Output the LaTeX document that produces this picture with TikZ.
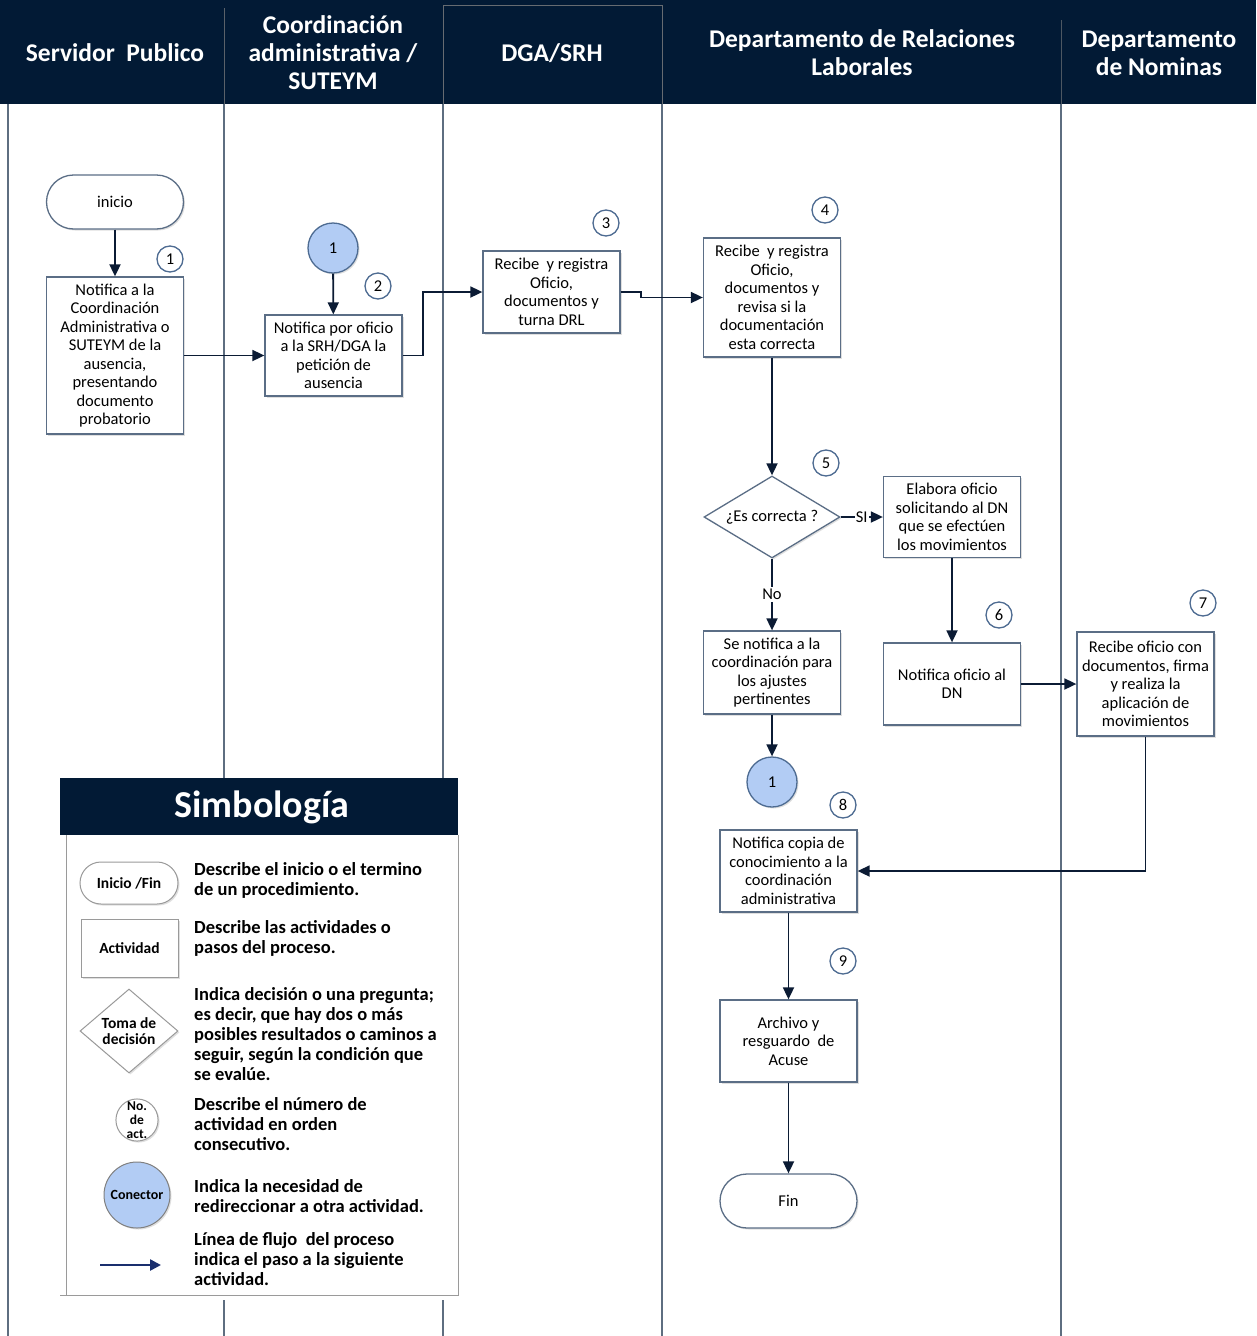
\documentclass[tikz,border=0pt]{standalone}
\usepackage{fontspec}
\setmainfont{Carlito}
\usetikzlibrary{shapes.geometric,arrows.meta,shadows}
\definecolor{navy}{HTML}{021A35}
\definecolor{lanec}{HTML}{5E6E80}
\definecolor{boxc}{HTML}{5B6E86}
\definecolor{numc}{HTML}{4D6B91}
\definecolor{conf}{HTML}{B2CCF4}
\definecolor{arrc}{HTML}{0B1B34}
\definecolor{legc}{HTML}{9A9A9A}
\definecolor{legarr}{HTML}{1A2F6E}
\begin{document}
\begin{tikzpicture}[x=1pt,y=-1pt,
  every node/.style={font=\fontsize{16.5}{18.5}\selectfont, align=center, inner sep=0pt, text=black},
  shad/.style={drop shadow={opacity=0.25,shadow xshift=1.5pt,shadow yshift=-1.5pt}},
  act/.style={draw=boxc, line width=1.3pt, fill=white, shad},
  term/.style={act, rounded corners=27pt, minimum height=54pt, minimum width=137pt},
  numb/.style={circle, draw=numc, line width=1.3pt, fill=white, minimum size=26pt},
  conn/.style={circle, draw=numc, line width=1.3pt, fill=conf, minimum size=50pt, shad},
  dec/.style={diamond, aspect=1.66, draw=boxc, line width=1.3pt, fill=white, minimum width=136pt, minimum height=82pt, shad},
  flow/.style={draw=arrc, line width=1.8pt, -{Triangle[length=12pt,width=11pt]}},
  lane/.style={draw=lanec, line width=1.5pt},
  hdr/.style={text=white, font=\bfseries\fontsize{25.5}{28}\selectfont},
  lgs/.style={draw=legc, line width=1pt, fill=white, shad, font=\bfseries\fontsize{15.5}{16}\selectfont},
  lgt/.style={anchor=west, align=left, font=\bfseries\fontsize{18.5}{20}\selectfont}
]
\useasboundingbox (0,0) rectangle (1256,1336);
\fill[white] (0,0) rectangle (1256,1336);
% header
\fill[navy] (0,0) rectangle (1256,104);
\draw[draw=gray!70!navy, line width=1pt] (224,8) -- (224,104);
\draw[draw=gray!80!navy, line width=1pt] (443,104) -- (443,5) -- (662,5) -- (662,104);
\draw[draw=gray!60!navy, line width=1pt] (1061,20) -- (1061,104);
\node[hdr] (h1) at (115,53) {Servidor\ \ Publico};
\node[hdr] (h2) at (333,53) {Coordinación\\administrativa /\\SUTEYM};
\node[hdr] (h3) at (552,53) {DGA/SRH};
\node[hdr] (h4) at (862,53) {Departamento de Relaciones\\Laborales};
\node[hdr] (h5) at (1159,53) {Departamento\\de Nominas};
% lanes
\foreach \xx in {8,224,443,662,1061} \draw[lane] (\xx,104) -- (\xx,1336);

% flow nodes
\node[term] (ini) at (115,202) {inicio};
\node[act, minimum width=137pt, minimum height=157pt] (a1) at (115,355.5) {Notifica a la\\Coordinación\\Administrativa o\\SUTEYM de la\\ausencia,\\presentando\\documento\\probatorio};
\node[conn] (c1) at (333,248) {1};
\node[act, minimum width=137pt, minimum height=81pt] (a2) at (333.5,355.5) {Notifica por oficio\\a la SRH/DGA la\\petición de\\ausencia};
\node[act, minimum width=137pt, minimum height=82pt] (a3) at (551.5,292) {Recibe\ \ y registra\\Oficio,\\documentos y\\turna DRL};
\node[act, minimum width=137pt, minimum height=119pt] (a4) at (772,297.5) {Recibe\ \ y registra\\Oficio,\\documentos y\\revisa si la\\documentación\\esta correcta};
\node[dec] (d5) at (772,517) {¿Es correcta ?};
\node[act, minimum width=137pt, minimum height=81pt] (el) at (952,517) {Elabora oficio\\solicitando al DN\\que se efectúen\\los movimientos};
\node[act, minimum width=137pt, minimum height=83pt] (no) at (772,672.5) {Se notifica a la\\coordinación para\\los ajustes\\pertinentes};
\node[conn] (c2) at (772,782) {1};
\node[act, minimum width=137pt, minimum height=82pt] (a6) at (952,684) {Notifica oficio al\\DN};
\node[act, minimum width=137pt, minimum height=104pt] (a7) at (1145.5,684) {Recibe oficio con\\documentos, firma\\y realiza la\\aplicación de\\movimientos};
\node[act, minimum width=137pt, minimum height=82pt] (a8) at (788.5,871) {Notifica copia de\\conocimiento a la\\coordinación\\administrativa};
\node[act, minimum width=137pt, minimum height=82pt] (a9) at (788.5,1041) {Archivo y\\resguardo\ \ de\\Acuse};
\node[term] (fin) at (788.5,1201) {Fin};

% step numbers
\node[numb] (n1) at (170,259) {1};
\node[numb] (n2) at (378,286) {2};
\node[numb] (n3) at (606,223) {3};
\node[numb] (n4) at (825,210) {4};
\node[numb] (n5) at (826,463) {5};
\node[numb] (n6) at (999,615) {6};
\node[numb] (n7) at (1203,603) {7};
\node[numb] (n8) at (843,805) {8};
\node[numb] (n9) at (843,961) {9};

% connectors
\draw[flow] (ini) -- (a1);
\draw[flow] (c1) -- (a2);
\draw[flow] (a1.east) -- (a2.west);
\draw[flow] (a2.east) -- ++(20,0) |- (a3.west);
\draw[flow] (a3.east) -- ++(20,0) |- (a4.west);
\draw[flow] (a4) -- (d5);
\draw[flow] (d5.east) -- node[fill=white, inner sep=1pt] {SI} (el.west);
\draw[flow] (d5.south) -- node[fill=white, inner sep=2pt] {No} (no.north);
\draw[flow] (no) -- (c2);
\draw[flow] (el) -- (a6);
\draw[flow] (a6.east) -- (a7.west);
\draw[flow] (a7.south) |- (a8.east);
\draw[flow] (a8) -- (a9);
\draw[flow] (a9) -- (fin);

% legend
\fill[white] (60,778) rectangle (458,1300);
\fill[navy] (60,778) rectangle (458,835);
\draw[legc, line width=1pt] (458,835) -- (458,1295) -- (60,1295);
\draw[legc, line width=1pt] (66,835) -- (66,1295);
\node[text=white, font=\bfseries\fontsize{38}{40}\selectfont] (lt) at (262,807) {Simbología};

\node[lgs, rounded corners=21pt, minimum width=98pt, minimum height=42pt] (l1) at (129,883) {Inicio /Fin};
\node[lgt] (t1) at (194,880) {Describe el inicio o el termino\\de un procedimiento.};
\node[lgs, minimum width=97pt, minimum height=58pt] (l2) at (129.5,948) {Actividad};
\node[lgt] (t2) at (194,938.5) {Describe las actividades o\\pasos del proceso.};
\node[lgs, diamond, aspect=1.2, minimum width=98pt, minimum height=84pt] (l3) at (129,1031) {Toma de\\decisión};
\node[lgt] (t3) at (194,1034) {Indica decisión o una pregunta;\\es decir, que hay dos o más\\posibles resultados o caminos a\\seguir, según la condición que\\se evalúe.};
\node[lgs, circle, minimum size=40pt, font=\bfseries\fontsize{13.5}{14}\selectfont] (l4) at (137,1120) {No.\\de\\act.};
\node[lgt] (t4) at (194,1124) {Describe el número de\\actividad en orden\\consecutivo.};
\node[lgs, circle, minimum size=66pt, fill=conf, draw=gray, font=\bfseries\fontsize{14}{14}\selectfont] (l5) at (137,1195) {Conector};
\node[lgt] (t5) at (194,1196) {Indica la necesidad de\\redireccionar a otra actividad.};
\coordinate (la) at (100,1265);
\coordinate (lb) at (161,1265);
\draw[draw=legarr, line width=2.5pt, -{Triangle[length=11pt,width=11pt]}] (la) -- (lb);
\node[lgt] (t6) at (194,1259) {Línea de flujo\ \ del proceso\\indica el paso a la siguiente\\actividad.};
\end{tikzpicture}
\end{document}
